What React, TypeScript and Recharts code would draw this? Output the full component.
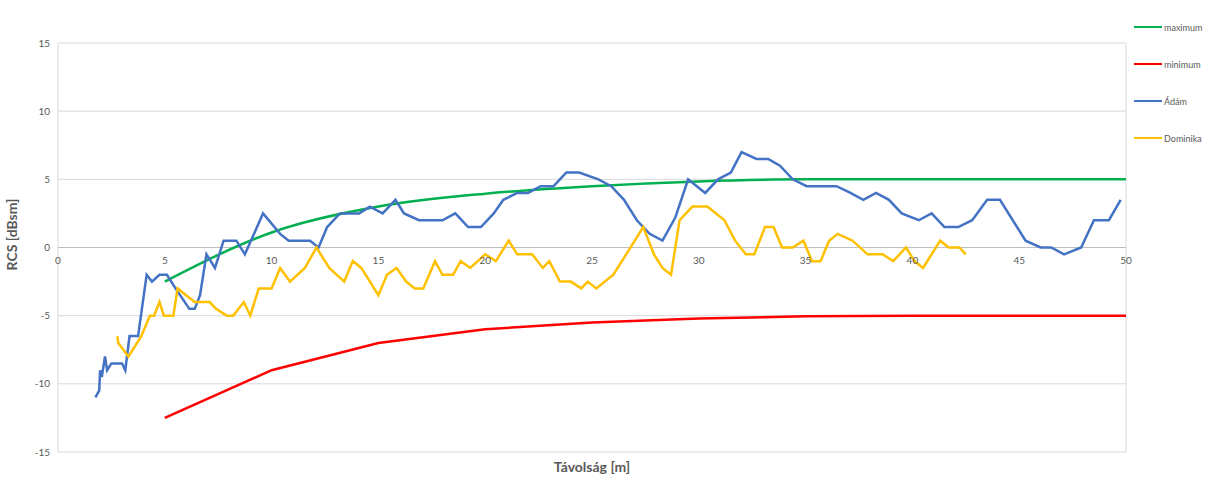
import React from 'react';
import { LineChart, Line, XAxis, YAxis, CartesianGrid, ReferenceLine, ReferenceDot, Legend } from 'recharts';

const xTicks = [0, 5, 10, 15, 20, 25, 30, 35, 40, 45, 50];
const yTicks = [-15, -10, -5, 0, 5, 10, 15];
const seriesNames = ['maximum', 'minimum', 'Ádám', 'Dominika'];

const limitDistance = [5, 10, 15, 20, 25, 30, 35, 40, 45, 50];
const maximumRcs = [-2.5, 1.1, 3.0, 3.95, 4.5, 4.85, 5.0, 5.0, 5.0, 5.0];
const minimumRcs = [-12.5, -9, -7, -6, -5.5, -5.2, -5.05, -5, -5, -5];

const adamDistance = [1.75, 1.93, 1.97, 2.05, 2.2, 2.3, 2.5, 3.0, 3.15, 3.35, 3.75, 4.15, 4.4, 4.75, 5.1, 5.5, 6.15, 6.4, 6.65, 6.95, 7.35, 7.75, 8.35, 8.75, 9.6, 10.4, 10.8, 11.8, 12.2, 12.6, 13.2, 14.1, 14.6, 15.2, 15.8, 16.2, 16.9, 18.0, 18.6, 19.2, 19.8, 20.4, 20.85, 21.5, 22.0, 22.6, 23.2, 23.8, 24.4, 25.3, 25.9, 26.5, 27.1, 27.7, 28.3, 28.9, 29.5, 30.3, 30.9, 31.5, 32.0, 32.7, 33.25, 33.8, 34.4, 35.05, 36.45, 37.1, 37.7, 38.3, 38.9, 39.5, 40.3, 40.9, 41.5, 42.15, 42.8, 43.5, 44.1, 45.3, 46.0, 46.5, 47.1, 47.9, 48.5, 49.2, 49.75];
const adamRcs = [-11, -10.5, -9, -9.5, -8, -9, -8.5, -8.5, -9, -6.5, -6.5, -2, -2.5, -2, -2, -3, -4.5, -4.5, -3.5, -0.5, -1.5, 0.5, 0.5, -0.5, 2.5, 1, 0.5, 0.5, 0, 1.5, 2.5, 2.5, 3, 2.5, 3.5, 2.5, 2, 2, 2.5, 1.5, 1.5, 2.5, 3.5, 4, 4, 4.5, 4.5, 5.5, 5.5, 5, 4.5, 3.5, 2, 1, 0.5, 2.2, 5, 4, 5, 5.5, 7, 6.5, 6.5, 6, 5, 4.5, 4.5, 4, 3.5, 4, 3.5, 2.5, 2, 2.5, 1.5, 1.5, 2, 3.5, 3.5, 0.5, 0, 0, -0.5, 0, 2, 2, 3.5];

const dominikaDistance = [2.78, 2.82, 3.3, 3.5, 3.9, 4.3, 4.5, 4.75, 4.96, 5.4, 5.6, 6.0, 6.4, 7.1, 7.4, 7.9, 8.2, 8.7, 9.0, 9.4, 10.0, 10.4, 10.86, 11.56, 12.1, 12.7, 13.4, 13.8, 14.2, 15.0, 15.4, 15.85, 16.3, 16.7, 17.1, 17.65, 18.0, 18.5, 18.85, 19.3, 20.0, 20.5, 21.1, 21.5, 22.2, 22.7, 23.0, 23.5, 24.0, 24.5, 24.8, 25.2, 26.0, 26.6, 27.4, 27.9, 28.3, 28.7, 29.1, 29.7, 30.4, 31.2, 31.7, 32.2, 32.6, 33.1, 33.5, 33.9, 34.4, 34.9, 35.3, 35.7, 36.1, 36.5, 37.2, 37.9, 38.6, 39.1, 39.7, 40.1, 40.5, 41.3, 41.7, 42.2, 42.5];
const dominikaRcs = [-6.5, -7, -8, -7.5, -6.5, -5, -5, -4, -5, -5, -3, -3.5, -4, -4, -4.5, -5, -5, -4, -5, -3, -3, -1.5, -2.5, -1.5, 0, -1.5, -2.5, -1, -1.5, -3.5, -2, -1.5, -2.5, -3, -3, -1, -2, -2, -1, -1.5, -0.5, -1, 0.5, -0.5, -0.5, -1.5, -1, -2.5, -2.5, -3, -2.5, -3, -2, -0.5, 1.5, -0.5, -1.5, -2, 2, 3, 3, 2, 0.5, -0.5, -0.5, 1.5, 1.5, 0, 0, 0.5, -1, -1, 0.5, 1, 0.5, -0.5, -0.5, -1, 0, -1, -1.5, 0.5, 0, 0, -0.5];

const toPoints = (xs: number[], ys: number[]) => xs.map((x, i) => ({ x, y: ys[i] }));

const maximumData = toPoints(limitDistance, maximumRcs);
const minimumData = toPoints(limitDistance, minimumRcs);
const adamData = toPoints(adamDistance, adamRcs);
const dominikaData = toPoints(dominikaDistance, dominikaRcs);

const FONT = 'Lato, "Open Sans", sans-serif';
const TEXT = '#595959';

const renderLegend = (props: any) => {
  const payload = [...(props.payload || [])].sort(
    (a: any, b: any) => seriesNames.indexOf(a.value) - seriesNames.indexOf(b.value)
  );
  return (
    <div style={{ fontFamily: FONT, fontSize: 9, color: TEXT }}>
      {payload.map((entry: any) => (
        <div key={entry.value} style={{ display: 'flex', alignItems: 'center', height: 14, marginBottom: 23 }}>
          <span style={{ display: 'inline-block', width: 28, height: 2, background: entry.color, marginRight: 2 }} />
          <span>{entry.value}</span>
        </div>
      ))}
    </div>
  );
};

export default function App() {
  return (
    <div style={{ position: 'absolute', left: 0, top: 0, background: '#fff' }}>
      <LineChart width={1217} height={478} margin={{ top: 43, right: 91, bottom: 0, left: 0 }}>
        <CartesianGrid stroke="#d9d9d9" strokeWidth={1} />
        <XAxis
          type="number"
          dataKey="x"
          domain={[0, 50]}
          ticks={xTicks}
          tick={false}
          tickLine={false}
          axisLine={false}
          height={26}
          label={{ value: 'Távolság [m]', position: 'insideBottom', offset: 6, fill: TEXT, fontSize: 14, fontWeight: 'bold', fontFamily: FONT }}
        />
        <YAxis
          type="number"
          dataKey="y"
          domain={[-15, 15]}
          ticks={yTicks}
          width={58}
          tickLine={false}
          axisLine={false}
          tick={{ fill: TEXT, fontSize: 10, fontFamily: FONT }}
          label={{ value: 'RCS [dBsm]', angle: -90, position: 'insideLeft', offset: 12, dy: -13, fill: TEXT, fontSize: 14, fontWeight: 'bold', fontFamily: FONT, style: { textAnchor: 'middle' } }}
        />
        <ReferenceLine y={0} stroke="#bfbfbf" strokeWidth={1} />
        {xTicks.map((t) => (
          <ReferenceDot
            key={t}
            x={t}
            y={0}
            r={0}
            fill="none"
            stroke="none"
            label={{ value: String(t), position: 'bottom', offset: 9, fill: TEXT, fontSize: 10, fontFamily: FONT }}
          />
        ))}
        <Legend
          layout="vertical"
          align="center"
          verticalAlign="middle"
          content={renderLegend}
          wrapperStyle={{ position: 'absolute', left: 1134, top: 20, width: 83 }}
        />
        <Line data={maximumData} dataKey="y" name="maximum" type="monotone" stroke="#00B050" strokeWidth={2.5} dot={false} isAnimationActive={false} />
        <Line data={minimumData} dataKey="y" name="minimum" type="linear" stroke="#FF0000" strokeWidth={2.5} dot={false} isAnimationActive={false} />
        <Line data={adamData} dataKey="y" name="Ádám" type="linear" stroke="#4472C4" strokeWidth={2.5} dot={false} isAnimationActive={false} />
        <Line data={dominikaData} dataKey="y" name="Dominika" type="linear" stroke="#FFC000" strokeWidth={2.5} dot={false} isAnimationActive={false} />
      </LineChart>
    </div>
  );
}
